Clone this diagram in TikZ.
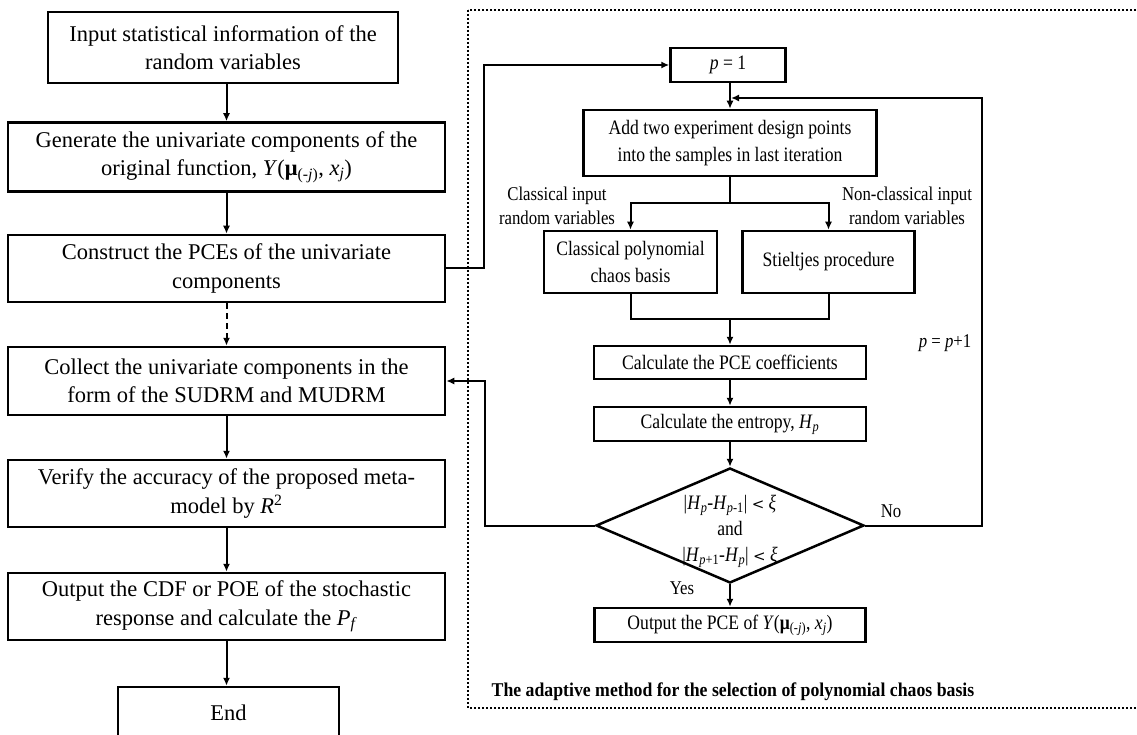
\documentclass[tikz,border=0pt]{standalone}
\usepackage{fontspec}
\setmainfont{Liberation Serif}
\newfontfamily\cond[FakeStretch=0.86]{Liberation Serif}
\newfontfamily\condt[FakeStretch=0.91]{Liberation Serif}
\usetikzlibrary{arrows.meta,shapes.geometric,calc}
\tikzset{
  lbox/.style={draw, line width=2.5pt, align=center, inner sep=0pt, font=\fontsize{22.5}{28.5}\selectfont},
  rbox/.style={draw, line width=2.5pt, align=center, inner sep=0pt, font=\cond\fontsize{20.5}{27}\selectfont},
  lab/.style={align=center, inner sep=0pt, font=\cond\fontsize{19.5}{24}\selectfont},
  arr/.style={line width=2pt, -{Latex[length=8pt,width=7pt]}},
  ln/.style={line width=2pt},
  frame/.style={line width=2pt, dash pattern=on 2pt off 2pt},
}
\begin{document}
\begin{tikzpicture}[x=1pt,y=-1pt]
\clip (0,0) rectangle (1137,735);
\useasboundingbox (0,0) rectangle (1137,735);
% dotted frame
\draw[frame] (468,10) rectangle (1150,708);
% left column
\node[lbox, minimum width=350pt, minimum height=71pt] (b1) at (223,47.5) {Input statistical information of the\\random variables};
\node[lbox, minimum width=437pt, minimum height=69pt] (b2) at (226.5,157) {Generate the univariate components of the\\original function, \textit{Y}(\textbf{μ}\textsubscript{(-\textit{j})}, \textit{x}\textsubscript{\textit{j}})};
\node[lbox, minimum width=437pt, minimum height=67pt] (b3) at (226.5,268.5) {Construct the PCEs of the univariate\\components};
\node[lbox, minimum width=437pt, minimum height=68pt] (b4) at (226.5,381) {Collect the univariate components in the\\form of the SUDRM and MUDRM};
\node[lbox, minimum width=437pt, minimum height=67pt] (b5) at (226.5,493.5) {Verify the accuracy of the proposed meta-\\model by \textit{R}\textsuperscript{2}};
\node[lbox, minimum width=437pt, minimum height=67pt] (b6) at (226.5,606.5) {Output the CDF or POE of the stochastic\\response and calculate the \textit{P}\textsubscript{\textit{f}}};
\node[lbox, minimum width=221pt, minimum height=52pt] (end) at (228.5,713) {End};
% left arrows
\draw[arr] (b2.north |- b1.south) -- (b2.north);
\draw[arr] (b2.south) -- (b3.north);
\draw[arr, dash pattern=on 6pt off 4pt] (b3.south) -- (b4.north);
\draw[arr] (b4.south) -- (b5.north);
\draw[arr] (b5.south) -- (b6.north);
\draw[arr] (b6.south) -- (b6.south |- end.north);
% right column
\node[rbox, minimum width=115pt, minimum height=34pt] (p1) at (728,65) {\textit{p} = 1};
\node[rbox, minimum width=293pt, minimum height=66pt] (add) at (730,143) {Add two experiment design points\\into the samples in last iteration};
\node[rbox, minimum width=173pt, minimum height=62pt] (cls) at (630.5,262) {Classical polynomial\\chaos basis};
\node[rbox, minimum width=172pt, minimum height=62pt] (stj) at (828.5,262) {Stieltjes procedure};
\node[rbox, minimum width=272pt, minimum height=33pt] (pce) at (730,362.5) {Calculate the PCE coefficients};
\node[rbox, minimum width=272pt, minimum height=34pt] (ent) at (730,424) {Calculate the entropy, \textit{H}\textsubscript{\textit{p}}};
\node[diamond, draw, line width=2.5pt, minimum width=268pt, minimum height=115pt, inner sep=0pt] (dia) at (730,525.5) {};
\node[lab, font=\cond\fontsize{20.5}{26}\selectfont] (diatext) at (730,531) {|\textit{H}\textsubscript{\textit{p}}-\textit{H}\textsubscript{\textit{p}-1}| {\fontspec{DejaVu Serif}\fontsize{15}{15}\selectfont<} \textit{ξ}\\and\\|\textit{H}\textsubscript{\textit{p}+1}-\textit{H}\textsubscript{\textit{p}}| {\fontspec{DejaVu Serif}\fontsize{15}{15}\selectfont<} \textit{ξ}};
\node[rbox, minimum width=271pt, minimum height=34pt] (out) at (730,625) {Output the PCE of \textit{Y}(\textbf{μ}\textsubscript{(-\textit{j})}, \textit{x}\textsubscript{\textit{j}})};
% labels
\node[lab] (clab) at (557,206) {Classical input\\random variables};
\node[lab] (nlab) at (907,206) {Non-classical input\\random variables};
\node[lab] (pp) at (945,343) {\textit{p} = \textit{p}+1};
\node[lab] (no) at (891,511) {No};
\node[lab] (yes) at (682,588) {Yes};
\node[inner sep=0pt, font=\condt\bfseries\fontsize{19.5}{24}\selectfont] (title) at (733,692) {The adaptive method for the selection of polynomial chaos basis};
% right connectors
\draw[arr] (b3.east) -- ++(38,0) |- (p1.west);
\draw[arr] (add.north |- p1.south) -- (add.north);
\coordinate (br) at (730,203);
\draw[ln] (add.south) -- (br);
\draw[arr] (br) -| (cls.north);
\draw[arr] (br) -| (stj.north);
\coordinate (mg) at (730,319);
\draw[ln] (cls.south) |- (mg);
\draw[ln] (stj.south) |- (mg);
\draw[arr] (mg) -- (pce.north);
\draw[arr] (pce.south) -- (ent.north);
\draw[arr] (ent.south) -- (dia.north);
\draw[arr] (dia.south) -- (out.north);
\coordinate (fb) at (731,98);
\draw[arr] (dia.east) -- ++(117,0) |- (fb);
\draw[arr] (dia.west) -- ++(-110,0) |- (b4.east);
\end{tikzpicture}
\end{document}
